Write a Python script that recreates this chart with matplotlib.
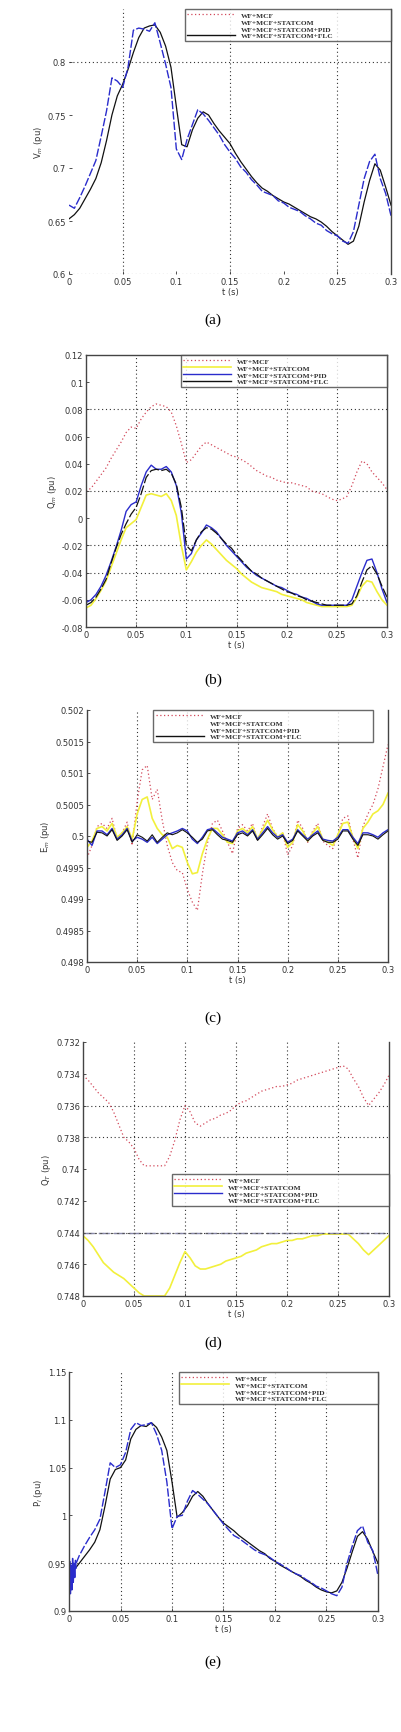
import numpy as np
import matplotlib
matplotlib.use("Agg")
import matplotlib.pyplot as plt
from matplotlib.lines import Line2D

# time grid shared by every panel (values were read every 5 ms)
t = np.linspace(0, 0.3, 61)

labels = ["WF+MCF", "WF+MCF+STATCOM", "WF+MCF+STATCOM+PID", "WF+MCF+STATCOM+FLC"]
xticks = [0, 0.05, 0.1, 0.15, 0.2, 0.25, 0.3]
xticklabels = ["0", "0.05", "0.1", "0.15", "0.2", "0.25", "0.3"]

# (a) voltage
a_pid = [0.665, 0.662, 0.672, 0.683, 0.695, 0.707, 0.730, 0.754, 0.785, 0.782,
         0.776, 0.795, 0.830, 0.832, 0.831, 0.829, 0.837, 0.818, 0.798, 0.776,
         0.718, 0.708, 0.727, 0.741, 0.755, 0.751, 0.745, 0.738, 0.731, 0.722,
         0.715, 0.709, 0.701, 0.696, 0.689, 0.684, 0.678, 0.676, 0.674, 0.669,
         0.667, 0.663, 0.661, 0.659, 0.655, 0.652, 0.648, 0.646, 0.641, 0.638,
         0.636, 0.631, 0.629, 0.640, 0.665, 0.690, 0.706, 0.713, 0.690, 0.676,
         0.655]
a_flc = [0.652, 0.656, 0.662, 0.671, 0.680, 0.690, 0.705, 0.726, 0.750, 0.768,
         0.779, 0.793, 0.809, 0.823, 0.832, 0.834, 0.835, 0.828, 0.815, 0.795,
         0.758, 0.722, 0.720, 0.736, 0.747, 0.753, 0.750, 0.742, 0.735, 0.729,
         0.723, 0.714, 0.706, 0.699, 0.692, 0.686, 0.681, 0.678, 0.674, 0.671,
         0.668, 0.666, 0.663, 0.660, 0.657, 0.654, 0.652, 0.649, 0.645, 0.640,
         0.636, 0.632, 0.628, 0.631, 0.645, 0.668, 0.688, 0.704, 0.698, 0.682,
         0.665]
a_yticks = [0.6, 0.65, 0.7, 0.75, 0.8]

# (b)
b_mcf = [0.020, 0.022, 0.027, 0.032, 0.037, 0.044, 0.050, 0.056, 0.063, 0.067,
         0.066, 0.073, 0.078, 0.082, 0.084, 0.083, 0.082, 0.078, 0.068, 0.055,
         0.041, 0.043, 0.048, 0.053, 0.056, 0.054, 0.052, 0.050, 0.048, 0.046,
         0.045, 0.043, 0.041, 0.038, 0.035, 0.033, 0.031, 0.030, 0.028, 0.027,
         0.026, 0.026, 0.025, 0.024, 0.023, 0.020, 0.019, 0.018, 0.016, 0.014,
         0.013, 0.014, 0.016, 0.024, 0.034, 0.042, 0.040, 0.034, 0.030, 0.026,
         0.021]
b_stat = [-0.066, -0.064, -0.059, -0.053, -0.046, -0.036, -0.026, -0.016, -0.007, -0.004,
          -0.001, 0.008, 0.017, 0.018, 0.017, 0.016, 0.018, 0.013, 0.002, -0.020,
          -0.038, -0.032, -0.025, -0.020, -0.016, -0.019, -0.023, -0.027, -0.031, -0.034,
          -0.037, -0.041, -0.044, -0.047, -0.049, -0.051, -0.052, -0.053, -0.054, -0.056,
          -0.057, -0.058, -0.059, -0.060, -0.062, -0.063, -0.064, -0.065, -0.065, -0.065,
          -0.065, -0.065, -0.065, -0.064, -0.058, -0.050, -0.046, -0.047, -0.054, -0.060,
          -0.064]
b_pid = [-0.062, -0.060, -0.056, -0.050, -0.042, -0.032, -0.021, -0.009, 0.005, 0.010,
         0.012, 0.024, 0.034, 0.039, 0.036, 0.036, 0.038, 0.034, 0.024, 0.004,
         -0.030, -0.026, -0.016, -0.011, -0.005, -0.007, -0.010, -0.015, -0.020, -0.024,
         -0.028, -0.032, -0.036, -0.039, -0.042, -0.044, -0.046, -0.048, -0.050, -0.051,
         -0.053, -0.055, -0.056, -0.058, -0.059, -0.061, -0.063, -0.064, -0.064, -0.064,
         -0.064, -0.064, -0.064, -0.060, -0.050, -0.040, -0.031, -0.030, -0.040, -0.052,
         -0.062]
b_flc = [-0.064, -0.062, -0.058, -0.052, -0.045, -0.033, -0.022, -0.012, -0.004, 0.003,
         0.008, 0.018, 0.030, 0.035, 0.036, 0.035, 0.036, 0.033, 0.025, 0.008,
         -0.020, -0.024, -0.016, -0.010, -0.007, -0.008, -0.011, -0.015, -0.019, -0.022,
         -0.027, -0.031, -0.035, -0.039, -0.041, -0.044, -0.046, -0.048, -0.050, -0.052,
         -0.054, -0.055, -0.057, -0.058, -0.060, -0.061, -0.062, -0.063, -0.064, -0.064,
         -0.064, -0.064, -0.064, -0.063, -0.057, -0.047, -0.038, -0.035, -0.041, -0.050,
         -0.058]
b_yticks = [-0.08, -0.06, -0.04, -0.02, 0, 0.02, 0.04, 0.06, 0.08, 0.1, 0.12]

# (c)
c_mcf = [0.49965, 0.49985, 0.50015, 0.50020, 0.50012, 0.50028, 0.49995, 0.50005, 0.50022, 0.49985,
         0.50055, 0.50105, 0.50112, 0.50058, 0.50074, 0.50025, 0.49985, 0.49958, 0.49945, 0.49942,
         0.49915, 0.49895, 0.49882, 0.49940, 0.49988, 0.50020, 0.50025, 0.50008, 0.49990, 0.49972,
         0.50012, 0.50018, 0.50008, 0.50020, 0.49992, 0.50015, 0.50035, 0.50012, 0.49998, 0.50005,
         0.49970, 0.49985, 0.50025, 0.50012, 0.49990, 0.50008, 0.50020, 0.49992, 0.49985, 0.49980,
         0.50002, 0.50028, 0.50032, 0.49995, 0.49965, 0.50015, 0.50035, 0.50050, 0.50075, 0.50110,
         0.50145]
c_stat = [0.49982, 0.49992, 0.50012, 0.50015, 0.50008, 0.50020, 0.49998, 0.50005, 0.50015, 0.49995,
          0.50035, 0.50058, 0.50062, 0.50028, 0.50012, 0.50002, 0.49998, 0.49980, 0.49985, 0.49982,
          0.49958, 0.49940, 0.49942, 0.49972, 0.49995, 0.50012, 0.50012, 0.50002, 0.49990, 0.49988,
          0.50008, 0.50012, 0.50005, 0.50015, 0.49995, 0.50010, 0.50025, 0.50010, 0.49998, 0.50005,
          0.49982, 0.49990, 0.50018, 0.50008, 0.49992, 0.50005, 0.50015, 0.49995, 0.49990, 0.49985,
          0.50002, 0.50020, 0.50022, 0.49998, 0.49980, 0.50012, 0.50022, 0.50035, 0.50040, 0.50050,
          0.50068]
c_pid = [0.49995, 0.49985, 0.50008, 0.50008, 0.50002, 0.50012, 0.49995, 0.50002, 0.50012, 0.49992,
         0.49998, 0.49995, 0.49990, 0.49998, 0.49988, 0.49995, 0.50002, 0.50005, 0.50008, 0.50012,
         0.50008, 0.49995, 0.49988, 0.49998, 0.50010, 0.50012, 0.50005, 0.49998, 0.49995, 0.49992,
         0.50005, 0.50008, 0.50002, 0.50010, 0.49995, 0.50005, 0.50015, 0.50005, 0.49998, 0.50002,
         0.49990, 0.49995, 0.50010, 0.50002, 0.49995, 0.50002, 0.50008, 0.49995, 0.49993, 0.49992,
         0.49998, 0.50010, 0.50010, 0.49998, 0.49988, 0.50005, 0.50005, 0.50002, 0.49998, 0.50005,
         0.50010]
c_flc = [0.49992, 0.49990, 0.50006, 0.50005, 0.50000, 0.50010, 0.49993, 0.50000, 0.50010, 0.49990,
         0.50002, 0.49998, 0.49992, 0.50002, 0.49990, 0.49998, 0.50005, 0.50002, 0.50005, 0.50010,
         0.50005, 0.49998, 0.49990, 0.49995, 0.50008, 0.50010, 0.50002, 0.49995, 0.49993, 0.49990,
         0.50002, 0.50005, 0.50000, 0.50008, 0.49993, 0.50002, 0.50012, 0.50002, 0.49995, 0.50000,
         0.49988, 0.49993, 0.50008, 0.50000, 0.49992, 0.50000, 0.50005, 0.49993, 0.49990, 0.49990,
         0.49995, 0.50008, 0.50008, 0.49995, 0.49985, 0.50002, 0.50002, 0.50000, 0.49995, 0.50002,
         0.50008]
c_yticks = [0.498, 0.4985, 0.499, 0.4995, 0.5, 0.5005, 0.501, 0.5015, 0.502]
c_yticklabels = ["0.498", "0.4985", "0.499", "0.4995", "0.5", "0.5005", "0.501", "0.5015", "0.502"]

# (d) reversed axis
d_mcf = [0.7341, 0.7344, 0.7348, 0.7352, 0.7355, 0.7358, 0.7364, 0.7372, 0.7380, 0.7383,
         0.7387, 0.7394, 0.7398, 0.7398, 0.7398, 0.7398, 0.7398, 0.7392, 0.7382, 0.7369,
         0.7360, 0.7364, 0.7371, 0.7373, 0.7371, 0.7369, 0.7368, 0.7366, 0.7365, 0.7363,
         0.7360, 0.7358, 0.7357, 0.7355, 0.7353, 0.7351, 0.7350, 0.7349, 0.7348, 0.7348,
         0.7347, 0.7346, 0.7344, 0.7343, 0.7342, 0.7341, 0.7340, 0.7339, 0.7338, 0.7337,
         0.7336, 0.7335, 0.7337, 0.7343, 0.7348, 0.7355, 0.7360, 0.7356, 0.7352, 0.7347,
         0.7341]
d_stat = [0.7442, 0.7445, 0.7449, 0.7454, 0.7459, 0.7462, 0.7465, 0.7467, 0.7469, 0.7472,
          0.7475, 0.7478, 0.7480, 0.7480, 0.7480, 0.7480, 0.7480, 0.7475, 0.7467, 0.7459,
          0.7452, 0.7456, 0.7461, 0.7463, 0.7463, 0.7462, 0.7461, 0.7460, 0.7458, 0.7457,
          0.7456, 0.7455, 0.7453, 0.7452, 0.7451, 0.7449, 0.7448, 0.7447, 0.7447, 0.7446,
          0.7445, 0.7445, 0.7444, 0.7444, 0.7443, 0.7442, 0.7442, 0.7441, 0.7441, 0.7441,
          0.7441, 0.7441, 0.7441, 0.7444, 0.7447, 0.7451, 0.7454, 0.7451, 0.7448, 0.7445,
          0.7442]
d_pid = [0.744] * 61
d_flc = [0.744] * 61
d_yticks = [0.732, 0.734, 0.736, 0.738, 0.74, 0.742, 0.744, 0.746, 0.748]

# (e) power
e_pid = [0.930, 0.945, 0.958, 0.968, 0.977, 0.985, 0.996, 1.025, 1.055, 1.050,
         1.053, 1.066, 1.090, 1.097, 1.094, 1.095, 1.097, 1.085, 1.068, 1.035,
         0.986, 0.999, 1.000, 1.015, 1.026, 1.022, 1.017, 1.012, 1.005, 0.998,
         0.991, 0.985, 0.979, 0.976, 0.972, 0.968, 0.964, 0.961, 0.959, 0.956,
         0.952, 0.949, 0.946, 0.942, 0.939, 0.937, 0.933, 0.930, 0.926, 0.924,
         0.921, 0.918, 0.916, 0.925, 0.950, 0.968, 0.984, 0.989, 0.972, 0.963,
         0.937]
e_flc = [0.937, 0.943, 0.950, 0.957, 0.964, 0.972, 0.985, 1.010, 1.038, 1.048,
         1.050, 1.058, 1.080, 1.090, 1.094, 1.093, 1.097, 1.092, 1.082, 1.068,
         1.035, 0.998, 1.003, 1.010, 1.020, 1.025, 1.020, 1.012, 1.005, 0.998,
         0.992, 0.988, 0.984, 0.979, 0.975, 0.971, 0.967, 0.963, 0.960, 0.955,
         0.952, 0.948, 0.945, 0.942, 0.939, 0.936, 0.932, 0.929, 0.925, 0.922,
         0.920, 0.919, 0.921, 0.930, 0.945, 0.962, 0.978, 0.983, 0.975, 0.962,
         0.950]
# start-up ripple of the PID trace in (e)
e_start_t = [0, 0.0007, 0.0014, 0.0021, 0.0028, 0.0035, 0.0042, 0.0049, 0.0056, 0.0063, 0.007]
e_start_v = [0.925, 0.952, 0.918, 0.948, 0.922, 0.955, 0.930, 0.950, 0.935, 0.953, 0.945]
e_yticks = [0.9, 0.95, 1, 1.05, 1.1, 1.15]

RED = "#d2485a"
YEL = "#f2f03c"
BLU = "#2a2ccc"
BLK = "#111111"

W, H = 401, 1733
fig = plt.figure(figsize=(W / 100, H / 100), dpi=100)


def make_ax(left, top, right, bottom):
    return fig.add_axes([left / W, 1 - bottom / H, (right - left) / W, (bottom - top) / H])


def style(ax, yticks, yticklabels=None, ylabel=""):
    ax.set_xlim(0, 0.3)
    ax.set_xticks(xticks)
    ax.set_xticklabels(xticklabels)
    ax.set_yticks(yticks)
    if yticklabels is not None:
        ax.set_yticklabels(yticklabels)
    ax.tick_params(direction="in", length=2.5, width=0.6, labelsize=6, pad=2,
                   colors="#333333")
    ax.set_xlabel("t (s)", fontsize=6, labelpad=1, color="#333333")
    ax.set_ylabel(ylabel, fontsize=6, labelpad=2, color="#333333")
    for s in ax.spines.values():
        s.set_linewidth(1.0)
        s.set_color("#444444")


def grid_lines(ax, vx=(), hy=()):
    for x in vx:
        ax.axvline(x, color="#333333", ls=(0, (1, 2.5)), lw=0.8, zorder=0)
    for y in hy:
        ax.axhline(y, color="#333333", ls=(0, (1, 2.5)), lw=0.8, zorder=0)


def legend(ax, vis, bbox):
    styles = [dict(color=RED, ls=(0, (1, 2)), lw=0.9),
              dict(color=YEL, ls="-", lw=1.2),
              dict(color=BLU, ls="-", lw=1.0),
              dict(color=BLK, ls="-", lw=1.0)]
    handles = []
    for st, v in zip(styles, vis):
        if not v:
            st = dict(color="none", ls="-", lw=1.0)
        handles.append(Line2D([], [], **st))
    lg = ax.legend(handles, labels, loc="upper right", bbox_to_anchor=bbox, mode="expand",
                   prop={"family": "Liberation Serif", "weight": "bold", "size": 5.3},
                   handlelength=6.5, handletextpad=0.8, borderpad=0.35, labelspacing=0.1,
                   frameon=True, fancybox=False, borderaxespad=0)
    lg.get_frame().set_edgecolor("#444444")
    lg.get_frame().set_linewidth(1.0)
    for txt in lg.get_texts():
        txt.set_color("#333333")
    return lg


def caption(y, s):
    fig.text(213 / W, 1 - y / H, s, ha="center", va="center", fontsize=11,
             family="Liberation Serif")


# ---- (a)
ax = make_ax(69, 10, 391, 275)
ax.plot(t, a_flc, color=BLK, lw=0.9)
ax.plot(t, a_pid, color=BLU, lw=1.0, ls=(0, (6, 1.5)))
ax.set_ylim(0.6, 0.85)
style(ax, a_yticks, ["0.6", "0.65", "0.7", "0.75", "0.8"], "V$_m$ (pu)")
grid_lines(ax, vx=[0.05, 0.15, 0.25], hy=[0.8, 0.6])
ax.spines["left"].set_visible(False)
ax.spines["bottom"].set_visible(False)
ax.spines["top"].set_visible(False)
legend(ax, [True, False, False, True], (0.36, 0.0, 0.64, 1.0))
caption(320, "(a)")

# ---- (b)
ax = make_ax(86, 356, 387, 628)
ax.plot(t, b_mcf, color=RED, lw=0.9, ls=(0, (1, 2)))
ax.plot(t, b_stat, color=YEL, lw=1.2)
ax.plot(t, b_pid, color=BLU, lw=1.0)
ax.plot(t, b_flc, color=BLK, lw=0.9, ls=(0, (8, 2)))
ax.set_ylim(-0.08, 0.12)
style(ax, b_yticks, ["-0.08", "-0.06", "-0.04", "-0.02", "0", "0.02", "0.04",
                     "0.06", "0.08", "0.1", "0.12"], "Q$_m$ (pu)")
grid_lines(ax, vx=[0.05, 0.1, 0.15, 0.2, 0.25], hy=[0.08, 0.02, -0.02, -0.04, -0.06])
legend(ax, [True, True, True, True], (0.315, 0.0, 0.685, 1.0))
caption(680, "(b)")

# ---- (c)
ax = make_ax(87, 711, 388, 963)
ax.plot(t, c_mcf, color=RED, lw=0.9, ls=(0, (1, 2)))
ax.plot(t, c_stat, color=YEL, lw=1.2)
ax.plot(t, c_pid, color=BLU, lw=1.0)
ax.plot(t, c_flc, color=BLK, lw=0.8)
ax.set_ylim(0.498, 0.502)
style(ax, c_yticks, c_yticklabels, "E$_m$ (pu)")
grid_lines(ax, vx=[0.05, 0.1, 0.15, 0.2, 0.25])
ax.spines["top"].set_visible(False)
legend(ax, [True, False, False, True], (0.22, 0.0, 0.73, 1.0))
caption(1018, "(c)")

# ---- (d)
ax = make_ax(83, 1043, 389, 1297)
ax.plot(t, d_mcf, color=RED, lw=0.9, ls=(0, (1, 2)))
ax.plot(t, d_stat, color=YEL, lw=1.2)
ax.plot(t, d_pid, color="#8888aa", lw=1.0, ls=(0, (8, 3)))
ax.plot(t, d_flc, color="#555555", lw=0.8, ls=(0, (2, 3)))
ax.set_ylim(0.748, 0.732)
style(ax, d_yticks, ["0.732", "0.734", "0.736", "0.738", "0.74", "0.742",
                     "0.744", "0.746", "0.748"], "Q$_T$ (pu)")
grid_lines(ax, vx=[0.05, 0.1, 0.15, 0.2, 0.25], hy=[0.736, 0.738, 0.744])
ax.spines["top"].set_visible(False)
legend(ax, [True, True, True, False], (0.29, 0.0, 0.71, 0.48))
caption(1343, "(d)")

# ---- (e)
ax = make_ax(69, 1373, 378, 1612)
ax.plot(t, e_flc, color=BLK, lw=0.9)
ax.plot(t, e_pid, color=BLU, lw=1.0, ls=(0, (6, 1.5)))
ax.plot(e_start_t, e_start_v, color=BLU, lw=1.0)
ax.set_ylim(0.9, 1.15)
style(ax, e_yticks, ["0.9", "0.95", "1", "1.05", "1.1", "1.15"], "P$_l$ (pu)")
grid_lines(ax, vx=[0.05, 0.1, 0.15, 0.2, 0.25], hy=[0.95])
ax.spines["top"].set_visible(False)
legend(ax, [True, True, False, False], (0.355, 0.0, 0.645, 1.0))
caption(1662, "(e)")

fig.savefig("out.png", dpi=100)
